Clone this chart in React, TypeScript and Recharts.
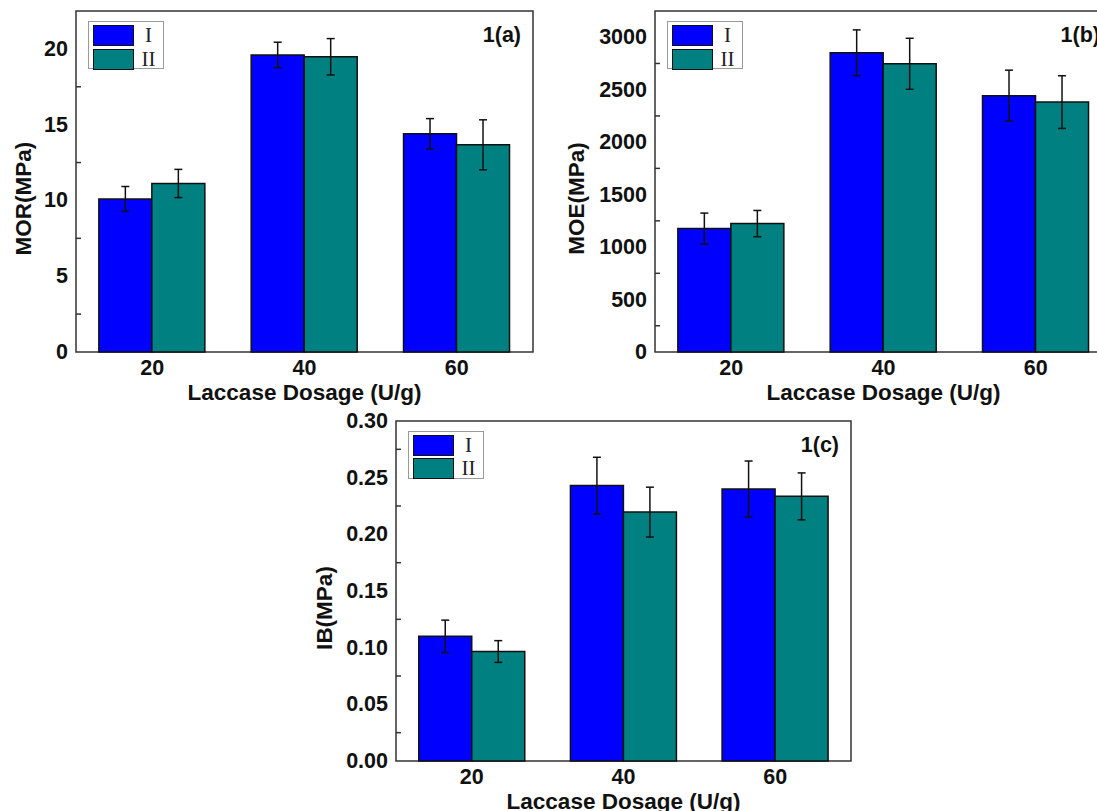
import { BarChart, Bar, XAxis, YAxis, ErrorBar, Legend, ReferenceArea, Label } from 'recharts';

// dosage groups on the x axis
const dosages = ['20', '40', '60'];

// 1(a) MOR, MPa
const morI = [10.1, 19.6, 14.4];
const morIErr = [0.82, 0.84, 1.0];
const morII = [11.12, 19.48, 13.67];
const morIIErr = [0.93, 1.2, 1.65];
const morMajor = [0, 5, 10, 15, 20];
const morMinor = [2.5, 7.5, 12.5, 17.5];

// 1(b) MOE, MPa
const moeI = [1176, 2852, 2443];
const moeIErr = [148, 218, 243];
const moeII = [1224, 2747, 2382];
const moeIIErr = [125, 243, 251];
const moeMajor = [0, 500, 1000, 1500, 2000, 2500, 3000];
const moeMinor = [250, 750, 1250, 1750, 2250, 2750];

// 1(c) IB, MPa
const ibI = [0.11, 0.243, 0.24];
const ibIErr = [0.0143, 0.025, 0.0247];
const ibII = [0.0966, 0.2196, 0.2335];
const ibIIErr = [0.0096, 0.022, 0.0207];
const ibMajor = [0, 0.05, 0.1, 0.15, 0.2, 0.25, 0.3];
const ibMinor = [0.025, 0.075, 0.125, 0.175, 0.225, 0.275];

const SANS = '"Liberation Sans", Arial, sans-serif';
const SERIF = '"Liberation Serif", "Times New Roman", serif';
const BLUE = '#0000ff';
const TEAL = '#008080';

// plot area starts this far from the svg's left edge (margin 36 + y axis 60)
const PLOT_LEFT = 96;

const buildRows = (a: number[], aErr: number[], b: number[], bErr: number[]) =>
    dosages.map((d, i) => ({ dosage: d, I: a[i], errI: aErr[i], II: b[i], errII: bErr[i] }));

const LegendBox = ({ payload }: any) => (
    <div style={{ border: '1px solid #999', background: '#fff', width: 76, height: 48, padding: '2px 0 0 4px', boxSizing: 'border-box' }}>
        {(payload || []).map((p: any) => (
            <div key={p.value} style={{ display: 'flex', alignItems: 'center', height: 23.5 }}>
                <div style={{ width: 42, height: 21, background: p.color, border: '1.5px solid #111', boxSizing: 'border-box' }} />
                <span style={{ width: 30, textAlign: 'center', fontFamily: SERIF, fontSize: 21, color: '#222', lineHeight: '21px' }}>{p.value}</span>
            </div>
        ))}
    </div>
);

function Panel({ rows, domain, major, minor, fmt, yTitle, yTitleGap, tag, width, height }: any) {
    const YTick = ({ x, y, payload }: any) => {
        if (major.includes(payload.value)) {
            return (
                <text x={x - 8} y={y} textAnchor="end" dominantBaseline="central" fontFamily={SANS} fontWeight={700} fontSize={21.5} fill="#111">
                    {fmt(payload.value)}
                </text>
            );
        }
        return <line x1={x} x2={x + 5} y1={y} y2={y} stroke="#333" strokeWidth={1.5} />;
    };
    const XTick = ({ x, y, payload }: any) => (
        <text x={x} y={y + 23} textAnchor="middle" fontFamily={SANS} fontWeight={700} fontSize={21.5} fill="#111">
            {payload.value}
        </text>
    );
    const YTitle = ({ viewBox }: any) => {
        const vb = viewBox || { x: 0, y: 0, width: 0, height: 0 };
        const cx = vb.x + vb.width - yTitleGap;
        const cy = vb.y + vb.height / 2 + 17;
        return (
            <text x={cx} y={cy} transform={`rotate(-90, ${cx}, ${cy})`} textAnchor="middle" dominantBaseline="central" fontFamily={SANS} fontWeight={700} fontSize={22.5} fill="#111">
                {yTitle}
            </text>
        );
    };
    const XTitle = ({ viewBox }: any) => {
        const vb = viewBox || { x: 0, y: 0, width: 0, height: 0 };
        return (
            <text x={vb.x + vb.width / 2} y={vb.y + 48} textAnchor="middle" fontFamily={SANS} fontWeight={700} fontSize={22.5} fill="#111">
                Laccase Dosage (U/g)
            </text>
        );
    };
    const Tag = ({ viewBox }: any) => {
        const vb = viewBox || { x: 0, y: 0, width: 0, height: 0 };
        return (
            <text x={vb.x + vb.width - 12} y={vb.y + 31} textAnchor="end" fontFamily={SANS} fontWeight={700} fontSize={21.5} fill="#111">
                {tag}
            </text>
        );
    };

    return (
        <BarChart width={width} height={height} data={rows} margin={{ top: 11, right: 12, left: PLOT_LEFT - 60, bottom: 0 }} barCategoryGap="15%" barGap={0}>
            <XAxis dataKey="dosage" axisLine={false} tickLine={false} tickSize={0} tickMargin={0} height={58} tick={<XTick />} interval={0}>
                <Label content={<XTitle />} />
            </XAxis>
            <YAxis type="number" domain={domain} ticks={[...major, ...minor].sort((p: number, q: number) => p - q)} interval={0} width={60} axisLine={false} tickLine={false} tickSize={0} tickMargin={0} tick={<YTick />}>
                <Label content={<YTitle />} />
            </YAxis>
            <Legend layout="vertical" align="center" verticalAlign="middle" content={<LegendBox />} wrapperStyle={{ left: PLOT_LEFT + 12, top: 21, width: 'auto', height: 'auto' }} />
            <Bar dataKey="I" name="I" fill={BLUE} stroke="#111" strokeWidth={1.5} isAnimationActive={false}>
                <ErrorBar dataKey="errI" width={4} stroke="#111" strokeWidth={1.5} direction="y" />
            </Bar>
            <Bar dataKey="II" name="II" fill={TEAL} stroke="#111" strokeWidth={1.5} isAnimationActive={false}>
                <ErrorBar dataKey="errII" width={4} stroke="#111" strokeWidth={1.5} direction="y" />
            </Bar>
            <ReferenceArea y1={domain[0]} y2={domain[1]} fill="none" fillOpacity={0} stroke="#333" strokeWidth={1.5} ifOverflow="visible" label={<Tag />} />
        </BarChart>
    );
}

export default function App() {
    return (
        <div style={{ position: 'fixed', left: 0, top: 0, width: 1097, height: 811, overflow: 'hidden', background: '#fff' }}>
            <div style={{ position: 'absolute', left: 76 - PLOT_LEFT, top: 0 }}>
                <Panel rows={buildRows(morI, morIErr, morII, morIIErr)} domain={[0, 22.5]} major={morMajor} minor={morMinor}
                    fmt={(v: number) => String(v)} yTitle="MOR(MPa)" yTitleGap={53} tag="1(a)" width={PLOT_LEFT + 457 + 12} height={410} />
            </div>
            <div style={{ position: 'absolute', left: 655 - PLOT_LEFT, top: 0 }}>
                <Panel rows={buildRows(moeI, moeIErr, moeII, moeIIErr)} domain={[0, 3250]} major={moeMajor} minor={moeMinor}
                    fmt={(v: number) => String(v)} yTitle="MOE(MPa)" yTitleGap={79} tag="1(b)" width={PLOT_LEFT + 457 + 12} height={410} />
            </div>
            <div style={{ position: 'absolute', left: 396 - PLOT_LEFT, top: 409.5 }}>
                <Panel rows={buildRows(ibI, ibIErr, ibII, ibIIErr)} domain={[0, 0.3]} major={ibMajor} minor={ibMinor}
                    fmt={(v: number) => v.toFixed(2)} yTitle="IB(MPa)" yTitleGap={72} tag="1(c)" width={PLOT_LEFT + 455 + 12} height={409} />
            </div>
        </div>
    );
}
